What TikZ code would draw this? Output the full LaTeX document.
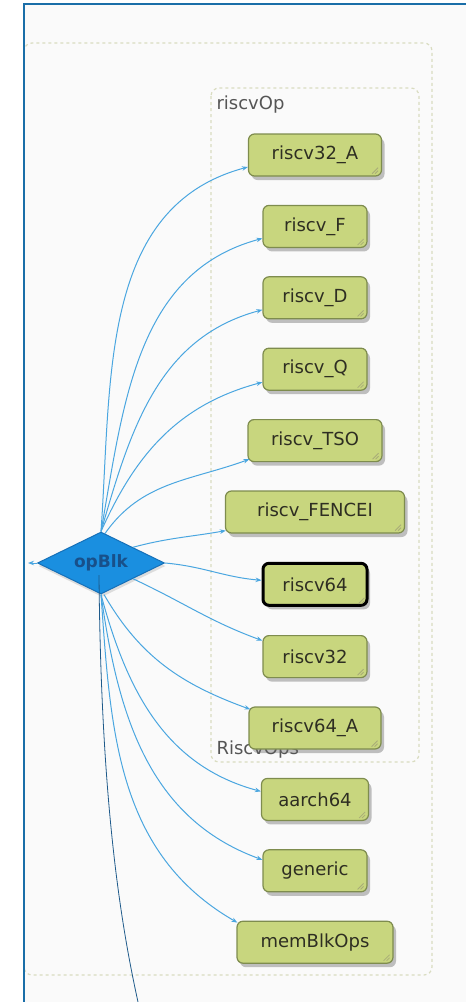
\documentclass[tikz,border=0pt]{standalone}
\usepackage{fontspec}
\setmainfont{DejaVu Sans}
\usetikzlibrary{arrows.meta,positioning,shapes.geometric,shadows}

\definecolor{frameblue}{HTML}{1A6EA8}
\definecolor{opfill}{HTML}{1A8FE0}
\definecolor{opline}{HTML}{1670B8}
\definecolor{optext}{HTML}{18508A}
\definecolor{blkfill}{HTML}{C8D67E}
\definecolor{blkline}{HTML}{7E8C4E}
\definecolor{blktext}{HTML}{2E2E22}
\definecolor{gripcol}{HTML}{A8AC78}
\definecolor{edgeblue}{HTML}{4AA6E0}
\definecolor{clusterline}{HTML}{D9DCC0}
\definecolor{clustertext}{HTML}{555555}
\definecolor{panel}{HTML}{FAFAFA}
\definecolor{pinline}{HTML}{1E5A8A}

\begin{document}
\begin{tikzpicture}[
    x=1pt, y=1pt,
    node distance=28.2pt,
    every node/.style={font=\fontsize{18}{22}\selectfont},
    block/.style={rectangle, draw=blkline, line width=1.2pt, fill=blkfill, text=blktext, rounded corners=6pt, minimum width=104pt, minimum height=42pt, inner sep=0pt, drop shadow={shadow xshift=3pt, shadow yshift=-4pt, fill=black!60, opacity=0.4}},
    opnode/.style={diamond, draw=opline, line width=1pt, fill=opfill, text=optext, font=\fontsize{17}{20}\selectfont\bfseries, minimum width=127pt, minimum height=62pt, aspect=2, inner sep=0pt, drop shadow={shadow xshift=1pt, shadow yshift=-3pt, fill=black!40, opacity=0.3}},
    link/.style={-{Stealth[length=6pt,width=4.5pt]}, draw=edgeblue, line width=1pt},
    cluster/.style={draw=clusterline, dashed, line width=1.2pt, rounded corners=8pt},
    grip/.style={draw=gripcol, line width=0.8pt},
    label/.style={text=clustertext, anchor=base west}
]
\useasboundingbox (0,0) rectangle (466,-1002);

% panel and clusters
\fill[panel] (24,-4) rectangle (466,-1002);
\draw[cluster] (24,-43) rectangle (432,-975);
\draw[cluster] (211,-88) rectangle (419,-762);
\node[label] (riscvOpLbl) at (213,-109) {riscvOp};
\node[label] (riscvOpsLbl) at (213,-754) {RiscvOps};
\draw[frameblue, line width=2.6pt] (24,-1002) -- (24,-4) -- (466,-4);

% blocks
\node[block, minimum width=133pt] (riscv32_A) at (315,-155) {riscv32\_A};
\node[block, below=of riscv32_A] (riscv_F) {riscv\_F};
\node[block, below=of riscv_F] (riscv_D) {riscv\_D};
\node[block, below=of riscv_D] (riscv_Q) {riscv\_Q};
\node[block, below=of riscv_Q, minimum width=134pt] (riscv_TSO) {riscv\_TSO};
\node[block, below=of riscv_TSO, minimum width=179pt] (riscv_FENCEI) {riscv\_FENCEI};
\node[block, below=of riscv_FENCEI, draw=black, line width=3pt] (riscv64) {riscv64};
\node[block, below=of riscv64] (riscv32) {riscv32};
\node[block, below=of riscv32, minimum width=132pt] (riscv64_A) {riscv64\_A};
\node[block, below=of riscv64_A, minimum width=107pt] (aarch64) {aarch64};
\node[block, below=of aarch64] (generic) {generic};
\node[block, below=of generic, minimum width=156pt] (memBlkOps) {memBlkOps};

\foreach \n in {riscv32_A,riscv_F,riscv_D,riscv_Q,riscv_TSO,riscv_FENCEI,riscv64,riscv32,riscv64_A,aarch64,generic,memBlkOps}{
    \draw[grip] ([shift={(-10pt,3pt)}]\n.south east) -- ([shift={(-4pt,9pt)}]\n.south east);
    \draw[grip] ([shift={(-7pt,3pt)}]\n.south east) -- ([shift={(-4pt,6pt)}]\n.south east);
}

% op block
\node[opnode] (opBlk) at (101,-563) {opBlk};
\coordinate (inlet) at (28,-563);
\draw[link] (opBlk.west) -- (inlet);

% fan out
\draw[link] (opBlk.north) to[out=86,in=195] ([yshift=-12pt]riscv32_A.west);
\draw[link] (opBlk.north) to[out=80,in=195] ([yshift=-12pt]riscv_F.west);
\draw[link] (opBlk.north) to[out=74,in=195] ([yshift=-12pt]riscv_D.west);
\draw[link] (opBlk.north) to[out=66,in=195] ([yshift=-13pt]riscv_Q.west);
\draw[link] ([shift={(4pt,-2pt)}]opBlk.north) to[out=55,in=200] ([shift={(2pt,3pt)}]riscv_TSO.south west);
\draw[link] (opBlk.north east) to[out=15,in=190] ([shift={(1pt,3pt)}]riscv_FENCEI.south west);
\draw[link] (opBlk.east) to[out=-5,in=175] ([yshift=4pt]riscv64.west);
\draw[link] (opBlk.south east) to[out=-25,in=160] ([yshift=16pt]riscv32.west);
\draw[link] ([xshift=3pt]opBlk.south) to[out=-60,in=160] ([shift={(2pt,-3pt)}]riscv64_A.north west);
\draw[link] (opBlk.south) to[out=-75,in=165] ([yshift=8pt]aarch64.west);
\draw[link] (opBlk.south) to[out=-82,in=160] ([yshift=11pt]generic.west);
\draw[link] (opBlk.south) to[out=-86,in=150] ([shift={(1pt,-2pt)}]memBlkOps.north west);

% pin line
\coordinate (pin) at ([shift={(-2pt,-12pt)}]opBlk.center);
\coordinate (tail) at (138,-1002);
\draw[pinline, line width=0.8pt] (pin) .. controls (101,-800) and (120,-920) .. (tail);
\end{tikzpicture}
\end{document}
